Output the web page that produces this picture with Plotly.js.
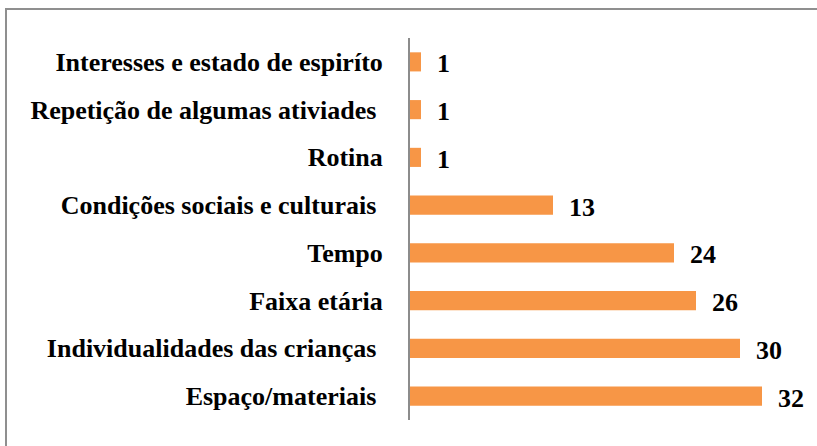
<!DOCTYPE html>
<html>
<head>
<meta charset="utf-8">
<script src="https://cdn.plot.ly/plotly-3.0.1.min.js"></script>
<style>
  html, body { margin: 0; padding: 0; background: #fff; }
  #frame { position: absolute; left: 5px; top: 8px; width: 900px; height: 600px; border: 2px solid #8f8f8f; box-sizing: border-box; }
  #chart { position: absolute; left: 0; top: 0; width: 817px; height: 446px; }
</style>
</head>
<body>
<div id="frame"></div>
<div id="chart"></div>
<script>
const categories = [
  "Espaço/materiais\u00a0",
  "Individualidades das crianças\u00a0",
  "Faixa etária",
  "Tempo",
  "Condições sociais e culturais\u00a0",
  "Rotina",
  "Repetição de algumas ativiades\u00a0",
  "Interesses e estado de espiríto"
];
const values = [32, 30, 26, 24, 13, 1, 1, 1];

const fam = "'Liberation Serif', 'Times New Roman', Times, serif";
const font = { family: fam, size: 26, color: "#000", weight: "bold" };

const trace = {
  type: "bar",
  orientation: "h",
  y: categories,
  x: values,
  marker: { color: "#F79646" },
  hoverinfo: "none"
};

const annotations = values.map((v, i) => ({
  x: v, y: categories[i], xref: "x", yref: "y",
  text: "<b>" + v + "</b>", showarrow: false,
  xanchor: "left", xshift: 14, yshift: -2, font: font
}));

const layout = {
  width: 817, height: 446,
  font: { family: fam },
  margin: { l: 410, r: 11, t: 38, b: 26 },
  paper_bgcolor: "rgba(0,0,0,0)",
  plot_bgcolor: "rgba(0,0,0,0)",
  bargap: 0.6,
  showlegend: false,
  xaxis: { range: [0, 36], showgrid: false, zeroline: false, showticklabels: false, showline: false, fixedrange: true },
  yaxis: {
    type: "category", categoryorder: "array", categoryarray: categories,
    showline: true, linecolor: "#8c8c8c", linewidth: 2,
    showgrid: false, zeroline: false, ticks: "", ticklabelstandoff: 20,
    tickfont: font,
    fixedrange: true
  },
  annotations: annotations
};

Plotly.newPlot("chart", [trace], layout, { displayModeBar: false, staticPlot: true });
</script>
</body>
</html>
